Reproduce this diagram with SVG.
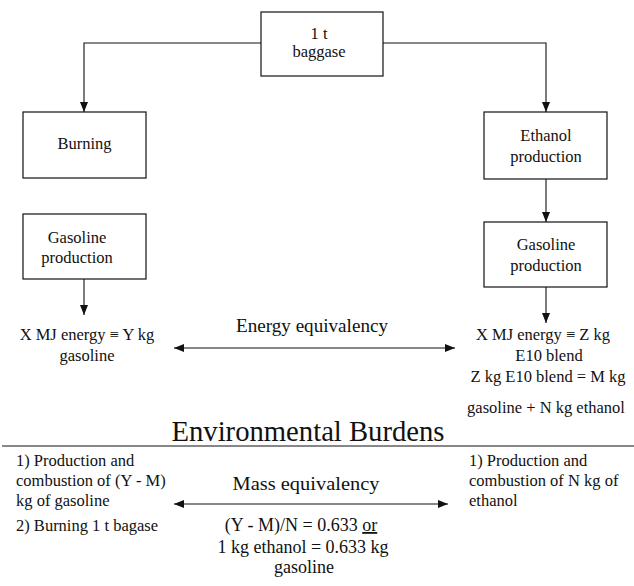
<svg xmlns="http://www.w3.org/2000/svg" width="634" height="586" viewBox="0 0 634 586" font-family="'Liberation Serif', 'Times New Roman', serif">
<style>
  .box { fill: #fff; stroke: #111; stroke-width: 1.2; }
  .t { font-family: 'Liberation Serif', 'Times New Roman', serif; font-size: 16.5px; fill: #111; }
  .c { text-anchor: middle; }
  .big { font-size: 19.5px; }
  .mid { font-size: 18px; }
  .title { font-size: 28.5px; }
  .ln { stroke: #111; stroke-width: 1.1; fill: none; }
</style>
<defs>
  <marker id="ah" viewBox="0 0 10 8" refX="10" refY="4" markerWidth="10" markerHeight="8" markerUnits="userSpaceOnUse" orient="auto-start-reverse">
    <path d="M0,0 L10,4 L0,8 z" fill="#111"/>
  </marker>
</defs>
<rect width="634" height="586" fill="#fff"/>

<g id="connectors">
  <polyline class="ln" points="261,43 84,43 84,112" marker-end="url(#ah)"/>
  <polyline class="ln" points="383,43 546,43 546,112" marker-end="url(#ah)"/>
  <line class="ln" x1="546" y1="179" x2="546" y2="222" marker-end="url(#ah)"/>
  <line class="ln" x1="84" y1="279" x2="84" y2="315" marker-end="url(#ah)"/>
  <line class="ln" x1="546" y1="287" x2="546" y2="323" marker-end="url(#ah)"/>
  <line id="energy-arrow" class="ln" x1="174" y1="348" x2="455" y2="348" marker-start="url(#ah)" marker-end="url(#ah)"/>
  <line id="mass-arrow" class="ln" x1="174" y1="504" x2="448" y2="504" marker-start="url(#ah)" marker-end="url(#ah)"/>
  <line id="divider" class="ln" x1="2" y1="446" x2="634" y2="446"/>
</g>

<g id="node-bagasse">
  <rect class="box" x="261" y="12" width="122" height="64"/>
  <text class="t c" x="319" y="39">1 t</text>
  <text class="t c" x="319" y="57">baggase</text>
</g>

<g id="node-burning">
  <rect class="box" x="23" y="112" width="123" height="66"/>
  <text class="t c" x="84.5" y="148.5">Burning</text>
</g>

<g id="node-ethanol">
  <rect class="box" x="484" y="112" width="123" height="67"/>
  <text class="t c" x="546" y="141">Ethanol</text>
  <text class="t c" x="546" y="162">production</text>
</g>

<g id="node-gasoline-left">
  <rect class="box" x="23" y="214" width="123" height="65"/>
  <text class="t c" x="77" y="243">Gasoline</text>
  <text class="t c" x="77" y="263">production</text>
</g>

<g id="node-gasoline-right">
  <rect class="box" x="484" y="222" width="123" height="65"/>
  <text class="t c" x="546" y="250">Gasoline</text>
  <text class="t c" x="546" y="271">production</text>
</g>

<g id="label-left-energy">
  <text class="t c" x="87" y="340">X MJ energy ≡ Y kg</text>
  <text class="t c" x="87" y="361">gasoline</text>
</g>

<g id="label-energy-equivalency">
  <text class="t c big" x="312" y="332" textLength="152" lengthAdjust="spacingAndGlyphs">Energy equivalency</text>
</g>

<g id="label-right-energy">
  <text class="t c" x="543" y="340">X MJ energy ≡ Z kg</text>
  <text class="t c" x="549" y="361">E10 blend</text>
  <text class="t c" x="548" y="382">Z kg E10 blend = M kg</text>
  <text class="t c" x="546" y="413">gasoline + N kg ethanol</text>
</g>

<g id="label-environmental-burdens">
  <text class="t c title" x="308" y="441" textLength="273" lengthAdjust="spacingAndGlyphs">Environmental Burdens</text>
</g>

<g id="label-left-burdens">
  <text class="t" x="16" y="466">1) Production and</text>
  <text class="t" x="16" y="486">combustion of (Y - M)</text>
  <text class="t" x="16" y="506">kg of gasoline</text>
  <text class="t" x="16" y="531">2) Burning 1 t bagase</text>
</g>

<g id="label-mass-equivalency">
  <text class="t c big" x="306" y="490" textLength="147" lengthAdjust="spacingAndGlyphs">Mass equivalency</text>
  <text class="t c mid" x="301" y="531">(Y - M)/N = 0.633 <tspan text-decoration="underline">or</tspan></text>
  <text class="t c mid" x="303" y="553">1 kg ethanol = 0.633 kg</text>
  <text class="t c mid" x="304" y="573">gasoline</text>
</g>

<g id="label-right-burdens">
  <text class="t" x="469" y="466">1) Production and</text>
  <text class="t" x="469" y="486">combustion of N kg of</text>
  <text class="t" x="469" y="506">ethanol</text>
</g>
</svg>
